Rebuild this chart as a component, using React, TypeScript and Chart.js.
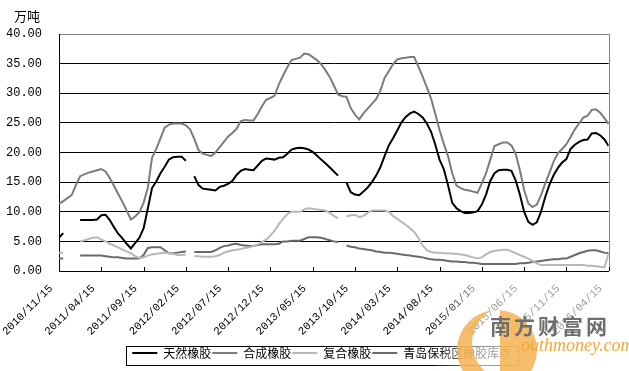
import React, { useEffect, useRef } from 'react';
import { Chart, registerables } from 'chart.js';

Chart.register(...registerables);

// x index = half-month steps starting 2010/11/15
const TICK_LABELS = [
  '2010/11/15', '2011/04/15', '2011/09/15', '2012/02/15', '2012/07/15',
  '2012/12/15', '2013/05/15', '2013/10/15', '2014/03/15', '2014/08/15',
  '2015/01/15', '2015/06/15', '2015/11/15', '2016/04/15',
];

const SERIES_NAMES = ['天然橡胶', '合成橡胶', '复合橡胶', '青岛保税区橡胶库存'];
const UNIT = '万吨';

const NATURAL: (number | null)[] = [
  5.6, 6.4, null, null, null, 8.6, 8.6, 8.6, 8.6, 8.7,
  9.4, 9.5, 8.6, 7.4, 6.3, 5.5, 4.6, 3.8, 4.7, 5.6,
  7.2, 10.5, 14.0, 15.1, 16.5, 17.6, 18.8, 19.2, 19.3, 19.3,
  18.6, null, 16.0, 14.5, 13.9, 13.8, 13.7, 13.6, 14.2, 14.4,
  14.7, 15.2, 16.2, 16.9, 17.2, 17.1, 17.0, 17.8, 18.6, 19.0,
  18.9, 18.8, 19.1, 19.2, 19.8, 20.5, 20.7, 20.8, 20.7, 20.5,
  20.1, 19.5, 18.8, 18.2, 17.5, 16.8, 16.1, null, 14.9, 13.3,
  12.9, 12.8, 13.4, 14.1, 15.0, 16.1, 17.5, 19.4, 21.2, 22.4,
  23.7, 25.1, 26.0, 26.6, 26.9, 26.5, 25.9, 24.9, 23.5, 21.3,
  18.8, 17.2, 14.5, 11.5, 10.6, 10.1, 9.8, 9.8, 9.9, 10.1,
  11.2, 12.9, 15.2, 16.5, 17.0, 17.1, 17.1, 16.9, 15.3, 12.9,
  10.0, 8.3, 7.8, 8.2, 10.0, 12.5, 14.6, 16.2, 17.4, 18.3,
  18.9, 20.6, 21.3, 21.8, 22.1, 22.2, 23.2, 23.3, 22.9, 22.2,
  21.1,
];

const SYNTHETIC: (number | null)[] = [
  11.3, 11.8, 12.3, 12.8, 14.5, 16.0, 16.3, 16.6, 16.8, 17.0,
  17.2, 16.8, 15.7, 14.4, 13.0, 11.7, 10.2, 8.7, 9.2, 9.9,
  11.5, 14.0, 19.1, 20.6, 22.4, 24.2, 24.7, 24.9, 24.9, 24.9,
  24.6, 23.9, 22.3, 20.4, 19.8, 19.6, 19.4, 20.0, 20.9, 21.8,
  22.7, 23.3, 24.0, 25.3, 25.5, 25.4, 25.4, 26.5, 27.8, 28.9,
  29.2, 29.6, 31.5, 33.0, 34.4, 35.6, 35.8, 36.0, 36.7, 36.6,
  36.1, 35.6, 34.9, 33.9, 32.8, 31.3, 29.8, 29.5, 29.4, 27.5,
  26.4, 25.6, 26.6, 27.4, 28.2, 29.0, 30.4, 32.6, 33.7, 34.9,
  35.7, 35.9, 36.0, 36.1, 36.1, 34.5, 32.8, 31.0, 29.1, 26.5,
  23.8, 21.5, 19.4, 16.5, 14.4, 14.0, 13.7, 13.6, 13.4, 13.2,
  14.8, 16.5, 18.8, 21.1, 21.4, 21.7, 21.7, 21.2, 19.8, 17.0,
  13.7, 11.4, 10.8, 11.2, 12.8, 14.8, 16.6, 18.5, 19.9, 20.6,
  21.4, 22.6, 23.9, 24.9, 25.9, 26.2, 27.2, 27.3, 26.7, 25.8,
  24.8,
];

const COMPOUND: (number | null)[] = [
  3.1, 3.1, null, null, null, 5.0, 5.2, 5.4, 5.6, 5.7,
  5.3, 5.0, 4.6, 4.3, 4.0, 3.6, 3.3, 3.0, 2.5, 2.2,
  2.3, 2.6, 2.8, 2.9, 3.0, 3.1, 3.0, 2.9, 2.7, 2.7,
  2.8, null, 2.5, 2.5, 2.4, 2.4, 2.4, 2.5, 2.7, 3.1,
  3.3, 3.5, 3.6, 3.7, 3.9, 4.0, 4.2, 4.5, 4.9, 5.3,
  6.0, 6.8, 7.9, 8.8, 9.6, 10.0, 10.0, 10.0, 10.4, 10.6,
  10.5, 10.4, 10.3, 10.2, 9.8, 9.3, 8.9, null, 9.2, 9.4,
  9.5, 9.1, 9.3, 9.8, 10.2, 10.2, 10.2, 10.2, 10.0, 9.3,
  8.8, 8.3, 7.8, 7.2, 6.6, 5.6, 4.3, 3.5, 3.2, 3.1,
  3.1, 3.0, 3.0, 2.9, 2.9, 2.8, 2.7, 2.5, 2.3, 2.1,
  2.3, 2.8, 3.2, 3.4, 3.5, 3.6, 3.6, 3.3, 3.0, 2.7,
  2.4, 2.1, 1.7, 1.3, 1.0, 1.0, 1.0, 1.0, 1.0, 1.0,
  1.0, 1.0, 1.0, 1.0, 1.0, 0.9, 0.9, 0.8, 0.7, 0.6,
  3.0,
];

const QINGDAO: (number | null)[] = [
  2.1, 2.1, null, null, null, 2.6, 2.6, 2.6, 2.6, 2.6,
  2.6, 2.5, 2.4, 2.3, 2.3, 2.2, 2.1, 2.1, 2.1, 2.1,
  2.7, 3.9, 4.0, 4.0, 4.0, 3.5, 3.0, 3.0, 3.1, 3.2,
  3.3, null, 3.2, 3.2, 3.2, 3.2, 3.2, 3.5, 3.9, 4.2,
  4.3, 4.5, 4.6, 4.4, 4.3, 4.2, 4.2, 4.4, 4.5, 4.5,
  4.5, 4.5, 4.6, 5.0, 5.0, 5.1, 5.1, 5.1, 5.4, 5.7,
  5.7, 5.7, 5.6, 5.4, 5.2, 5.0, 4.9, null, 4.3, 4.1,
  4.0, 3.8, 3.7, 3.6, 3.5, 3.3, 3.2, 3.1, 3.1, 3.0,
  2.9, 2.8, 2.7, 2.6, 2.5, 2.4, 2.3, 2.1, 2.0, 1.9,
  1.9, 1.8, 1.7, 1.6, 1.6, 1.5, 1.5, 1.4, 1.4, 1.3,
  1.2, 1.2, 1.2, 1.2, 1.2, 1.2, 1.2, 1.2, 1.2, 1.3,
  1.3, 1.4, 1.5, 1.6, 1.7, 1.8, 1.9, 2.0, 2.0, 2.1,
  2.1, 2.4, 2.7, 3.0, 3.2, 3.4, 3.5, 3.5, 3.3, 3.1,
  3.0,
];

const COLORS = ['#000000', '#7c7c7c', '#b8b8b8', '#6a6a6a'];

const toPoints = (arr: (number | null)[]) => arr.map((v, i) => ({ x: i, y: v }));

const LEGEND_SHIFT = 13;

const decorPlugin = {
  id: 'decor',
  afterUpdate(chart: any) {
    const lg = chart.legend;
    if (lg) {
      lg.left += LEGEND_SHIFT;
      lg.right += LEGEND_SHIFT;
      if (lg.legendHitBoxes) {
        for (const h of lg.legendHitBoxes) h.left += LEGEND_SHIFT;
      }
    }
  },
  beforeDatasetsDraw(chart: any) {
    const { ctx, chartArea: a } = chart;
    ctx.save();
    ctx.strokeStyle = '#808080';
    ctx.lineWidth = 1;
    const rx = Math.round(a.right) + 0.5;
    ctx.beginPath();
    ctx.moveTo(rx, a.top);
    ctx.lineTo(rx, a.bottom);
    ctx.stroke();
    // inner x tick marks
    const xs = chart.scales.x;
    ctx.strokeStyle = '#000';
    for (const t of xs.ticks) {
      const px = Math.round(xs.getPixelForValue(t.value)) + 0.5;
      ctx.beginPath();
      ctx.moveTo(px, a.bottom - 4);
      ctx.lineTo(px, a.bottom);
      ctx.stroke();
    }
    ctx.restore();
  },
  afterDraw(chart: any) {
    const { ctx } = chart;
    ctx.save();
    // unit
    ctx.fillStyle = '#000';
    ctx.font = '13px "Noto Sans CJK SC"';
    ctx.textAlign = 'left';
    ctx.textBaseline = 'middle';
    ctx.fillText(UNIT, 14, 16);

    // legend border
    const lg = chart.legend;
    if (lg && lg.legendHitBoxes && lg.legendHitBoxes.length) {
      const hb = lg.legendHitBoxes;
      const minX = Math.min(...hb.map((h: any) => h.left));
      const maxX = Math.max(...hb.map((h: any) => h.left + h.width));
      const top = lg.top + 1;
      ctx.strokeStyle = '#000';
      ctx.lineWidth = 1;
      ctx.strokeRect(Math.round(minX - 6) + 0.5, Math.round(top) - 0.5,
        Math.round(maxX - minX + 13), 19);
    }

    // watermark
    const g = ctx.createLinearGradient(430, 0, 480, 0);
    g.addColorStop(0, 'rgba(255,255,255,0)');
    g.addColorStop(1, 'rgba(255,255,255,0.6)');
    ctx.fillStyle = g;
    ctx.fillRect(430, 284, 199, 87);

    ctx.save();
    ctx.beginPath();
    ctx.arc(497, 350, 40, 0, Math.PI * 2);
    ctx.clip();
    ctx.beginPath();
    ctx.rect(440, 300, 60, 71);
    ctx.arc(509, 343, 37, 0, Math.PI * 2);
    ctx.fillStyle = 'rgba(245,178,80,0.85)';
    ctx.fill('evenodd');
    ctx.restore();

    ctx.fillStyle = '#6e6e6e';
    ctx.font = 'bold 21px "Noto Sans CJK SC"';
    (ctx as any).letterSpacing = '3px';
    ctx.textBaseline = 'middle';
    ctx.fillText('南方财富网', 490, 326);
    (ctx as any).letterSpacing = '0px';
    ctx.fillStyle = '#f0a83c';
    ctx.font = 'italic 18px "Liberation Serif"';
    ctx.textBaseline = 'alphabetic';
    ctx.fillText('outhmoney.com', 521, 351);
    ctx.restore();
  },
};

export default function App() {
  const ref = useRef<HTMLCanvasElement | null>(null);

  useEffect(() => {
    document.body.style.margin = '0';
    const canvas = ref.current;
    if (!canvas) return;
    const series = [NATURAL, SYNTHETIC, COMPOUND, QINGDAO];
    const chart = new Chart(canvas, {
      type: 'line',
      data: {
        datasets: series.map((s, k) => ({
          label: SERIES_NAMES[k],
          data: toPoints(s) as any,
          borderColor: COLORS[k],
          backgroundColor: COLORS[k],
          borderWidth: 2,
          pointRadius: 0,
          pointHoverRadius: 0,
          tension: 0,
          spanGaps: false,
          fill: false,
        })),
      },
      options: {
        responsive: false,
        animation: false,
        devicePixelRatio: 1,
        layout: { padding: { top: 34, right: 11.5, left: 0, bottom: 2 } },
        plugins: {
          tooltip: { enabled: false },
          title: { display: false },
          legend: {
            position: 'bottom',
            labels: {
              usePointStyle: true,
              pointStyle: 'line',
              pointStyleWidth: 25,
              boxHeight: 12,
              padding: 1,
              color: '#000',
              font: { family: '"Noto Sans CJK SC"', size: 12 },
            },
          },
        },
        scales: {
          x: {
            type: 'linear',
            min: 0,
            max: 130,
            afterFit: (scale: any) => { scale.height = 75; },
            border: { color: '#000', width: 1 },
            grid: { drawOnChartArea: false, drawTicks: false, color: '#000' },
            ticks: {
              stepSize: 10,
              autoSkip: false,
              maxRotation: 45,
              minRotation: 45,
              padding: 11,
              labelOffset: -8,
              color: '#000',
              font: { family: '"Liberation Mono"', size: 11 },
              callback: (v: any) => {
                const k = Math.round(Number(v) / 10);
                return TICK_LABELS[k] ?? '';
              },
            },
          },
          y: {
            min: 0,
            max: 40,
            afterFit: (scale: any) => { scale.width = 59; },
            border: { color: '#000', width: 1 },
            grid: {
              drawTicks: false,
              color: (c: any) => (c.tick && c.tick.value === 40 ? '#808080' : '#000'),
            },
            ticks: {
              stepSize: 5,
              padding: 17,
              color: '#000',
              font: { family: '"Liberation Mono"', size: 12 },
              callback: (v: any) => Number(v).toFixed(2),
            },
          },
        },
      },
      plugins: [decorPlugin],
    });
    return () => chart.destroy();
  }, []);

  return (
    <div style={{ width: 629, height: 371 }}>
      <canvas ref={ref} width={629} height={371} />
    </div>
  );
}
